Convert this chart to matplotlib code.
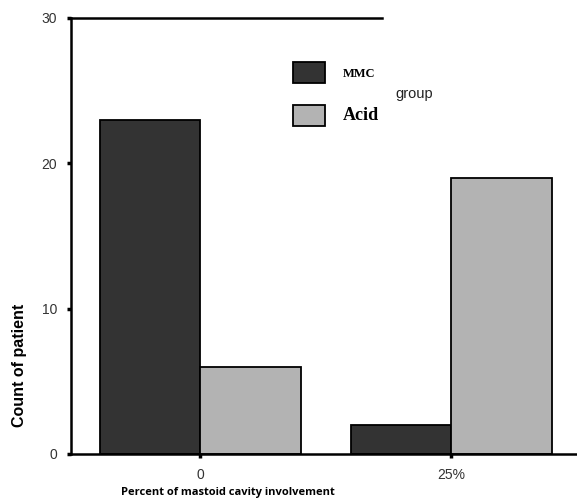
import matplotlib.pyplot as plt
import numpy as np

categories = ['0', '25%']
groups = ['MMC', 'Acid']
mmc_counts = [23, 2]
acid_counts = [6, 19]
y_ticks = [0, 10, 20, 30]

fig = plt.figure(figsize=(5.77, 4.99), dpi=100)
ax = fig.add_axes([0.123, 0.0902, 0.877, 0.874])

x = np.arange(len(categories))
w = 0.4
b1 = ax.bar(x - w / 2, mmc_counts, w, color='#333333', edgecolor='black', linewidth=1.3, label=groups[0])
b2 = ax.bar(x + w / 2, acid_counts, w, color='#b3b3b3', edgecolor='black', linewidth=1.3, label=groups[1])

ax.set_xlim(-0.514, 1.50)
ax.set_ylim(0, 30)
ax.set_xticks(x)
ax.set_xticklabels(categories)
ax.set_yticks(y_ticks)

for s in ['top', 'right']:
    ax.spines[s].set_visible(False)
for s in ['left', 'bottom']:
    ax.spines[s].set_linewidth(1.8)
ax.axhline(30, xmin=0, xmax=0.615, color='black', linewidth=1.8, clip_on=False)

ax.tick_params(axis='both', length=3, width=2.5, labelsize=10, labelcolor='#333333', pad=7)
for t in ax.get_xticklabels() + ax.get_yticklabels():
    t.set_family('Liberation Sans')

ax.set_ylabel('Count of patient', fontsize=11.5, fontweight='bold', family='Liberation Sans')
ax.yaxis.set_label_coords(-0.087, 0.204)
ax.set_xlabel('Percent of mastoid cavity involvement', fontsize=8, fontweight='bold', family='Open Sans')
ax.xaxis.set_label_coords(0.31, -0.075)

leg = ax.legend(handles=[b1, b2], loc='upper left', bbox_to_anchor=(0.428, 0.912),
                frameon=False, handlelength=2.3, handleheight=1.95, labelspacing=1.6,
                handletextpad=1.25, borderaxespad=0.0,
                prop={'family': 'Liberation Serif', 'weight': 'bold', 'size': 10})
leg.get_texts()[0].set_fontsize(9)
leg.get_texts()[1].set_fontsize(13)
ax.text(0.641, 0.816, 'group', transform=ax.transAxes, fontsize=10.5, family='Liberation Sans', color='#222222')

fig.savefig('out.png', dpi=100)
